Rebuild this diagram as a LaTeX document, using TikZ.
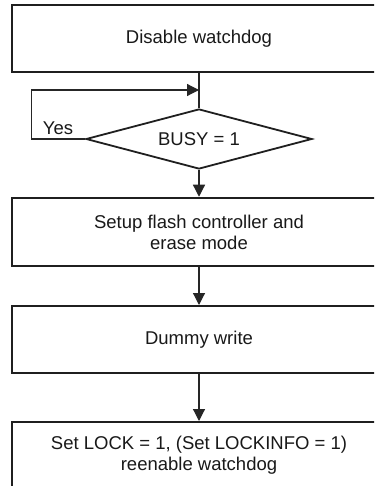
\documentclass[tikz,border=0pt]{standalone}
\usepackage{fontspec}
\setmainfont{Liberation Sans}
\usetikzlibrary{shapes.geometric,arrows.meta}
\begin{document}
\begin{tikzpicture}[x=1pt,y=-1pt,
  procbox/.style={draw=black!88, line width=2pt, minimum width=374pt, minimum height=67pt,
    inner sep=0pt, align=center, font=\fontsize{18.5}{21}\selectfont, text=black!90},
  decbox/.style={draw=black!88, line width=1.8pt, diamond, minimum width=226pt, minimum height=60pt,
    aspect=3.77, inner sep=0pt, font=\fontsize{18.5}{21}\selectfont, text=black!90},
  conn/.style={draw=black!85, line width=1.2pt},
  arr/.style={conn, -{Triangle[length=12pt,width=12pt]}},
  lbl/.style={font=\fontsize{18.5}{21}\selectfont, text=black!90, inner sep=0pt}]
\useasboundingbox (0,0) rectangle (374,486);
\clip (0,0) rectangle (374,486);
\fill[white] (0,0) rectangle (374,486);
\node[procbox] (b1) at (199,38.5) {Disable watchdog};
\node[decbox] (d) at (199,139) {BUSY = 1};
\node[procbox, line width=2.5pt, minimum height=68pt] (b2) at (199,232) {Setup flash controller and\\erase mode};
\node[procbox] (b3) at (199,339.5) {Dummy write};
\node[procbox] (b4) at (199,455.5) {Set LOCK = 1, (Set LOCKINFO = 1)\\reenable watchdog};
\node[lbl] (yes) at (58,128) {Yes};
\coordinate (join) at (199,90);
\draw[conn] (b1.south) -- (d.north);
\draw[arr] (d.west) -- ++(-54,0) |- (join);
\draw[arr] (d.south) -- (b2.north);
\draw[arr] (b2.south) -- (b3.north);
\draw[arr] (b3.south) -- (b4.north);
\end{tikzpicture}
\end{document}
